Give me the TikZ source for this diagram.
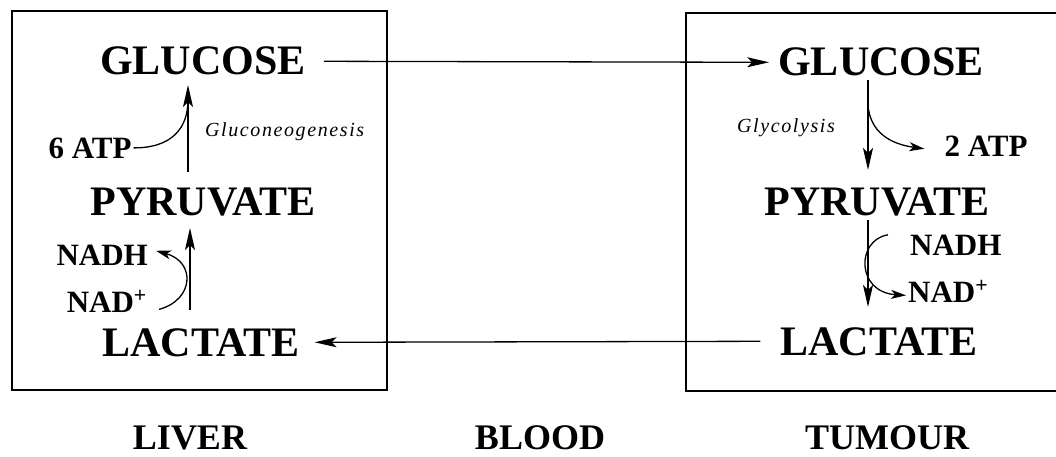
\documentclass[tikz,border=0pt]{standalone}
\usepackage{fontspec}
\setmainfont{Liberation Serif}
\usetikzlibrary{arrows.meta}
\begin{document}
\begin{tikzpicture}[x=1pt,y=-1pt,
  box/.style={draw=black,line width=1.4pt},
  big/.style={inner sep=0pt,anchor=base,font=\fontsize{42}{48}\selectfont\bfseries},
  place/.style={inner sep=0pt,anchor=base,font=\fontsize{36}{42}\selectfont\bfseries},
  small/.style={inner sep=0pt,font=\fontsize{31}{36}\selectfont\bfseries},
  proc/.style={inner sep=0pt,anchor=base west,font=\fontsize{20}{24}\selectfont\itshape\addfontfeatures{LetterSpace=8}},
  arr/.style={line width=1.3pt,-{Stealth[length=22pt,width=10pt,inset=5pt]}},
  carr/.style={line width=1.3pt,-{Stealth[length=15pt,width=9pt,inset=4pt]}},
  ln/.style={line width=1.3pt}]
\useasboundingbox (0,0) rectangle (1056,457);
\draw[box] (12,11) rectangle (387,390);
\draw[box] (686,13) rectangle (1075,391);
% metabolites
\node[big] (lg) at (203,75) {GLUCOSE};
\node[big] (lp) at (203,215) {PYRUVATE};
\node[big] (ll) at (201,356) {LACTATE};
\node[big] (tg) at (881,76) {GLUCOSE};
\node[big] (tp) at (877,215) {PYRUVATE};
\node[big] (tl) at (879,355) {LACTATE};
% places
\node[place] (liver) at (190,449) {LIVER};
\node[place] (blood) at (540,449) {BLOOD};
\node[place] (tumour) at (887,449) {TUMOUR};
% cofactors
\node[small,anchor=base] (atp6) at (90,158) {6 ATP};
\node[small,anchor=base] (atp2) at (986,157) {2 ATP};
\node[small,anchor=base east] (lnadh) at (148,265) {NADH};
\node[small,anchor=base east] (lnad) at (147,312) {NAD\textsuperscript{+}};
\node[small,anchor=base west] (tnadh) at (910,255) {NADH};
\node[small,anchor=base west] (tnad) at (908,302) {NAD\textsuperscript{+}};
\node[proc] (gng) at (205,137) {Gluconeogenesis};
\node[proc] (gly) at (737,133) {Glycolysis};
% blood transport
\draw[arr] ([xshift=18pt]lg.east) -- ([xshift=-9pt]tg.west);
\draw[arr] ([xshift=-20pt]tl.west) -- ([xshift=15pt]ll.east);
% liver shafts
\coordinate (l1s) at (188,172);
\coordinate (l1e) at (188,85);
\coordinate (l1j) at (188,100);
\draw[arr] (l1s) -- (l1e);
\draw[ln] ([xshift=2pt]atp6.east) .. controls (172,148) and (188,128) .. (l1j);
\coordinate (l2s) at (190,310);
\coordinate (l2e) at (190,228);
\draw[arr] (l2s) -- (l2e);
\draw[carr] ([xshift=12pt,yshift=-8pt]lnad.east) .. controls (194,300) and (196,262) .. ([xshift=8pt,yshift=4pt]lnadh.east);
% tumour shafts
\coordinate (t1s) at (868,80);
\coordinate (t1e) at (868,170);
\coordinate (t1j) at (868,105);
\draw[arr] (t1s) -- (t1e);
\draw[carr] (t1j) .. controls (870,132) and (890,144) .. ([xshift=-20pt,yshift=-2pt]atp2.west);
\coordinate (t2s) at (868,220);
\coordinate (t2e) at (868,307);
\draw[arr] (t2s) -- (t2e);
\draw[carr] ([xshift=-22pt,yshift=10pt]tnadh.west) .. controls (856,240) and (856,292) .. ([xshift=-2pt,yshift=-4pt]tnad.west);
\end{tikzpicture}
\end{document}
